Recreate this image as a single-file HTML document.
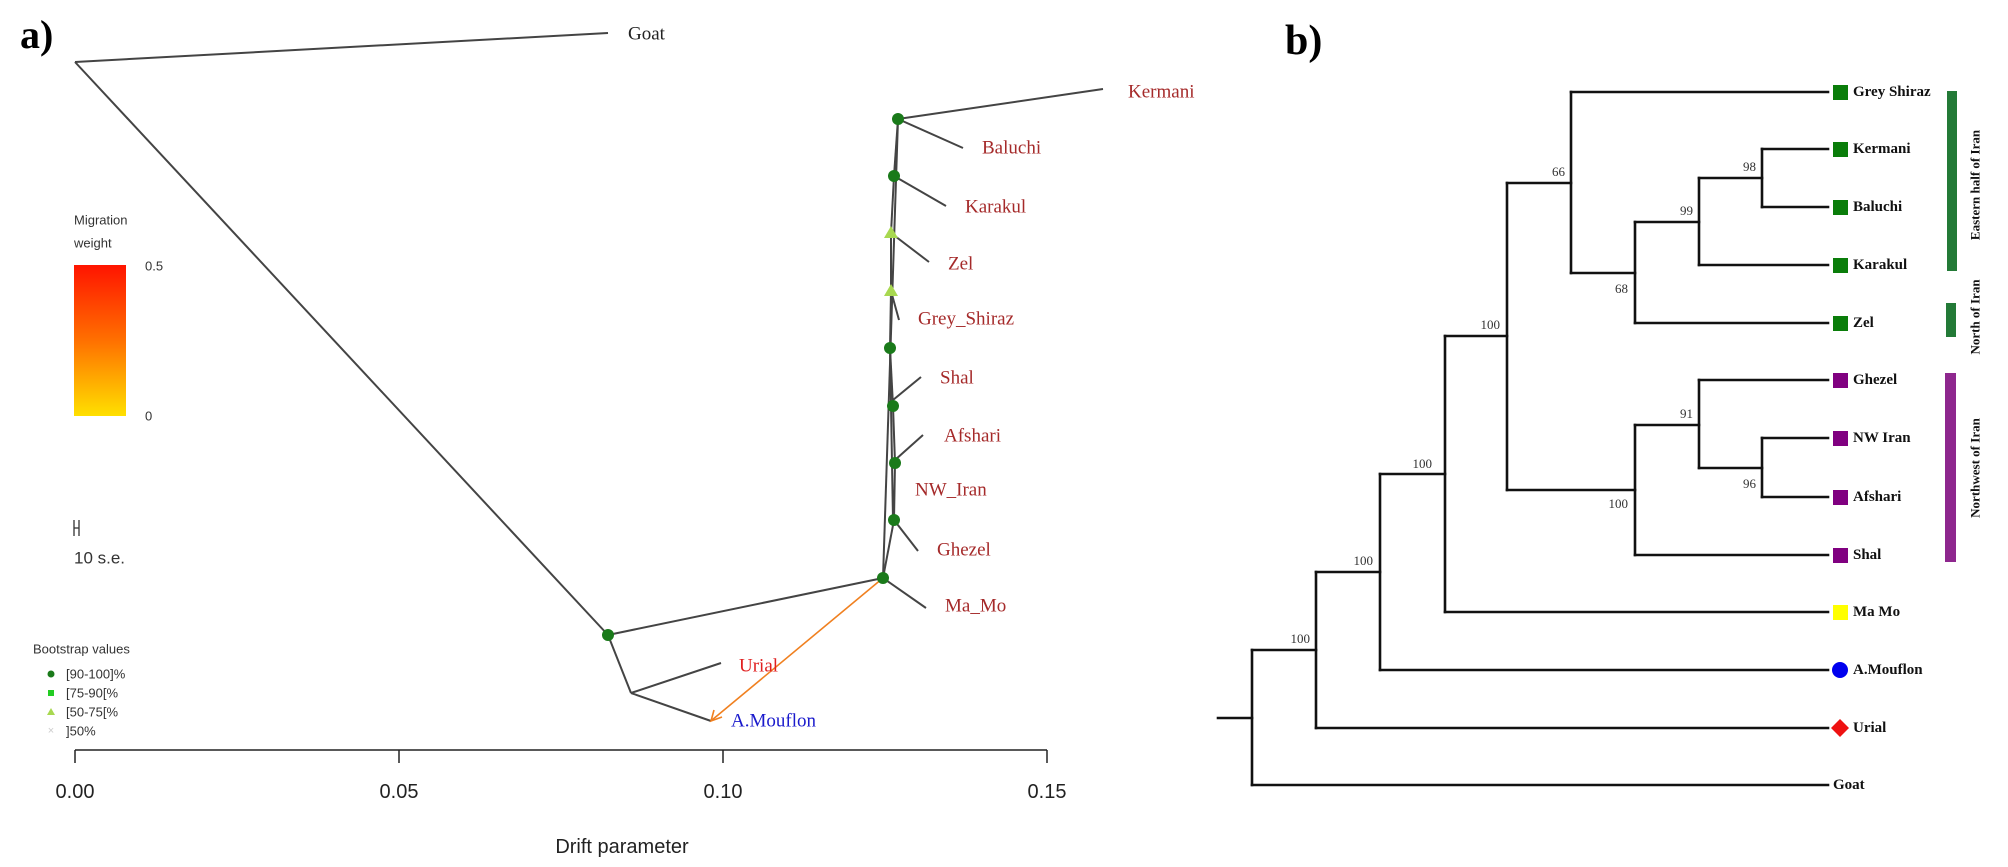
<!DOCTYPE html>
<html><head><meta charset="utf-8"><style>
html,body{margin:0;padding:0;background:#fff;}
svg{display:block;}
.s{font-family:"Liberation Sans",sans-serif;}
.r{font-family:"Liberation Serif",serif;}
</style></head><body>
<svg width="2008" height="867" viewBox="0 0 2008 867" xmlns="http://www.w3.org/2000/svg">
<defs><linearGradient id="g" x1="0" y1="0" x2="0" y2="1"><stop offset="0" stop-color="#ff1400"/><stop offset="0.5" stop-color="#ff7000"/><stop offset="1" stop-color="#ffe000"/></linearGradient></defs>
<!-- Panel a -->
<text x="20" y="48" class="r" font-size="40" font-weight="bold">a)</text>
<g stroke="#444" stroke-width="2" fill="none">
<line x1="75" y1="62" x2="608" y2="33"/>
<line x1="75" y1="62" x2="608" y2="635"/>
<line x1="608" y1="635" x2="631" y2="693"/>
<line x1="631" y1="693" x2="721" y2="663"/>
<line x1="631" y1="693" x2="711" y2="721"/>
<line x1="608" y1="635" x2="883" y2="578"/>
<line x1="883" y1="578" x2="898" y2="119"/>
<line x1="883" y1="578" x2="894" y2="520"/>
<line x1="894" y1="520" x2="895" y2="463"/>
<line x1="895" y1="463" x2="893" y2="406"/>
<line x1="893" y1="406" x2="890" y2="348"/>
<line x1="890" y1="348" x2="891" y2="291"/>
<line x1="891" y1="291" x2="891" y2="233"/>
<line x1="891" y1="233" x2="894" y2="176"/>
<line x1="894" y1="176" x2="898" y2="119"/>
<line x1="890" y1="348" x2="893" y2="520"/>
<line x1="898" y1="119" x2="1103" y2="89"/>
<line x1="898" y1="119" x2="963" y2="148"/>
<line x1="894" y1="176" x2="946" y2="206"/>
<line x1="891" y1="233" x2="929" y2="262"/>
<line x1="891" y1="291" x2="899" y2="320"/>
<line x1="893" y1="400" x2="921" y2="377"/>
<line x1="895" y1="460" x2="923" y2="435"/>
<line x1="894" y1="520" x2="918" y2="551"/>
<line x1="883" y1="578" x2="926" y2="608"/>
</g>
<line x1="883" y1="578" x2="712" y2="720" stroke="#f08020" stroke-width="1.6"/>
<polyline points="714,710 711,721 722,717" stroke="#f08020" stroke-width="1.6" fill="none"/>
<g fill="#1a7a1a">
<circle cx="608" cy="635" r="6"/><circle cx="883" cy="578" r="6"/>
<circle cx="898" cy="119" r="6"/><circle cx="894" cy="176" r="6"/>
<circle cx="890" cy="348" r="6"/><circle cx="893" cy="406" r="6"/>
<circle cx="895" cy="463" r="6"/><circle cx="894" cy="520" r="6"/>
</g>
<g fill="#a8d850"><polygon points="891,226 884,238 898,238"/><polygon points="891,284 884,296 898,296"/></g>
<g class="r" font-size="19" fill="#a52a2a" dominant-baseline="central">
<text x="628" y="34" fill="#222">Goat</text>
<text x="1128" y="92">Kermani</text>
<text x="982" y="148">Baluchi</text>
<text x="965" y="207">Karakul</text>
<text x="948" y="264">Zel</text>
<text x="918" y="319">Grey_Shiraz</text>
<text x="940" y="378">Shal</text>
<text x="944" y="436">Afshari</text>
<text x="915" y="490">NW_Iran</text>
<text x="937" y="550">Ghezel</text>
<text x="945" y="606">Ma_Mo</text>
<text x="739" y="666" fill="#e02020">Urial</text>
<text x="731" y="721" fill="#1a1acc">A.Mouflon</text>
</g>
<!-- axis -->
<g stroke="#222" stroke-width="1.5"><line x1="75" y1="750" x2="1047" y2="750"/>
<line x1="75" y1="750" x2="75" y2="763"/><line x1="399" y1="750" x2="399" y2="763"/><line x1="723" y1="750" x2="723" y2="763"/><line x1="1047" y1="750" x2="1047" y2="763"/></g>
<g class="s" font-size="20" fill="#222" text-anchor="middle" dominant-baseline="central">
<text x="75" y="792">0.00</text><text x="399" y="792">0.05</text><text x="723" y="792">0.10</text><text x="1047" y="792">0.15</text>
<text x="622" y="847">Drift parameter</text></g>
<!-- migration legend -->
<g class="s" font-size="13" fill="#333" dominant-baseline="central">
<text x="74" y="220">Migration</text><text x="74" y="243">weight</text>
<text x="145" y="266">0.5</text><text x="145" y="416">0</text>
<text x="74" y="558" font-size="17">10 s.e.</text>
<text x="33" y="649">Bootstrap values</text>
<text x="66" y="674">[90-100]%</text><text x="66" y="693">[75-90[%</text><text x="66" y="712">[50-75[%</text><text x="66" y="731">]50%</text>
</g>
<rect x="74" y="265" width="52" height="151" fill="url(#g)"/>
<g stroke="#333" stroke-width="1.3"><line x1="74" y1="520" x2="74" y2="536"/><line x1="79" y1="520" x2="79" y2="536"/><line x1="74" y1="528" x2="79" y2="528"/></g>
<circle cx="51" cy="674" r="3.5" fill="#1a7a1a"/>
<rect x="48" y="690" width="6" height="6" fill="#22cc22"/>
<polygon points="51,708 47,715 55,715" fill="#a8d850"/>
<text x="51" y="731" class="s" font-size="11" fill="#ccc" text-anchor="middle" dominant-baseline="central">×</text>
<!-- Panel b -->
<text x="1285" y="54" class="r" font-size="42" font-weight="bold">b)</text>
<g stroke="#111" stroke-width="2.6" fill="none" stroke-linecap="square">
<line x1="1218" y1="718" x2="1252" y2="718"/>
<line x1="1252" y1="650" x2="1252" y2="785"/><line x1="1252" y1="785" x2="1828" y2="785"/>
<line x1="1252" y1="650" x2="1316" y2="650"/>
<line x1="1316" y1="572" x2="1316" y2="728"/><line x1="1316" y1="728" x2="1828" y2="728"/>
<line x1="1316" y1="572" x2="1380" y2="572"/>
<line x1="1380" y1="474" x2="1380" y2="670"/><line x1="1380" y1="670" x2="1828" y2="670"/>
<line x1="1380" y1="474" x2="1445" y2="474"/>
<line x1="1445" y1="336" x2="1445" y2="612"/><line x1="1445" y1="612" x2="1828" y2="612"/>
<line x1="1445" y1="336" x2="1507" y2="336"/>
<line x1="1507" y1="183" x2="1507" y2="490"/>
<line x1="1507" y1="183" x2="1571" y2="183"/>
<line x1="1571" y1="92" x2="1571" y2="273"/><line x1="1571" y1="92" x2="1828" y2="92"/>
<line x1="1571" y1="273" x2="1635" y2="273"/>
<line x1="1635" y1="222" x2="1635" y2="323"/><line x1="1635" y1="323" x2="1828" y2="323"/>
<line x1="1635" y1="222" x2="1699" y2="222"/>
<line x1="1699" y1="178" x2="1699" y2="265"/><line x1="1699" y1="265" x2="1828" y2="265"/>
<line x1="1699" y1="178" x2="1762" y2="178"/>
<line x1="1762" y1="149" x2="1762" y2="207"/><line x1="1762" y1="149" x2="1828" y2="149"/><line x1="1762" y1="207" x2="1828" y2="207"/>
<line x1="1507" y1="490" x2="1635" y2="490"/>
<line x1="1635" y1="425" x2="1635" y2="555"/><line x1="1635" y1="555" x2="1828" y2="555"/>
<line x1="1635" y1="425" x2="1699" y2="425"/>
<line x1="1699" y1="380" x2="1699" y2="468"/><line x1="1699" y1="380" x2="1828" y2="380"/>
<line x1="1699" y1="468" x2="1762" y2="468"/>
<line x1="1762" y1="438" x2="1762" y2="497"/><line x1="1762" y1="438" x2="1828" y2="438"/><line x1="1762" y1="497" x2="1828" y2="497"/>
</g>
<g class="r" font-size="13" fill="#333" text-anchor="end">
<text x="1432" y="468">100</text><text x="1373" y="565">100</text><text x="1310" y="643">100</text><text x="1500" y="329">100</text>
<text x="1565" y="176">66</text><text x="1693" y="215">99</text><text x="1756" y="171">98</text>
<text x="1628" y="293">68</text><text x="1693" y="418">91</text><text x="1756" y="488">96</text><text x="1628" y="508">100</text>
</g>
<g fill="#0a7d0a">
<rect x="1833" y="85" width="15" height="15"/><rect x="1833" y="142" width="15" height="15"/><rect x="1833" y="200" width="15" height="15"/><rect x="1833" y="258" width="15" height="15"/><rect x="1833" y="316" width="15" height="15"/>
</g>
<g fill="#800080">
<rect x="1833" y="373" width="15" height="15"/><rect x="1833" y="431" width="15" height="15"/><rect x="1833" y="490" width="15" height="15"/><rect x="1833" y="548" width="15" height="15"/>
</g>
<rect x="1833" y="605" width="15" height="15" fill="#ffff00"/>
<circle cx="1840" cy="670" r="8" fill="#0000ee"/>
<polygon points="1840,719 1849,728 1840,737 1831,728" fill="#ee1111"/>
<g class="r" font-size="15" font-weight="bold" fill="#111" dominant-baseline="central">
<text x="1853" y="92">Grey Shiraz</text><text x="1853" y="149">Kermani</text><text x="1853" y="207">Baluchi</text><text x="1853" y="265">Karakul</text><text x="1853" y="323">Zel</text>
<text x="1853" y="380">Ghezel</text><text x="1853" y="438">NW Iran</text><text x="1853" y="497">Afshari</text><text x="1853" y="555">Shal</text>
<text x="1853" y="612">Ma Mo</text><text x="1853" y="670">A.Mouflon</text><text x="1853" y="728">Urial</text><text x="1833" y="785">Goat</text>
</g>
<rect x="1947" y="91" width="10" height="180" fill="#237a37"/>
<rect x="1946" y="303" width="10" height="34" fill="#237a37"/>
<rect x="1945" y="373" width="11" height="189" fill="#8e278e"/>
<g class="r" font-size="13" font-weight="bold" fill="#111" text-anchor="middle" dominant-baseline="central">
<text transform="translate(1975,185) rotate(-90)">Eastern half of Iran</text>
<text transform="translate(1975,317) rotate(-90)">North of Iran</text>
<text transform="translate(1975,468) rotate(-90)">Northwest of Iran</text>
</g>
</svg>
</body></html>
